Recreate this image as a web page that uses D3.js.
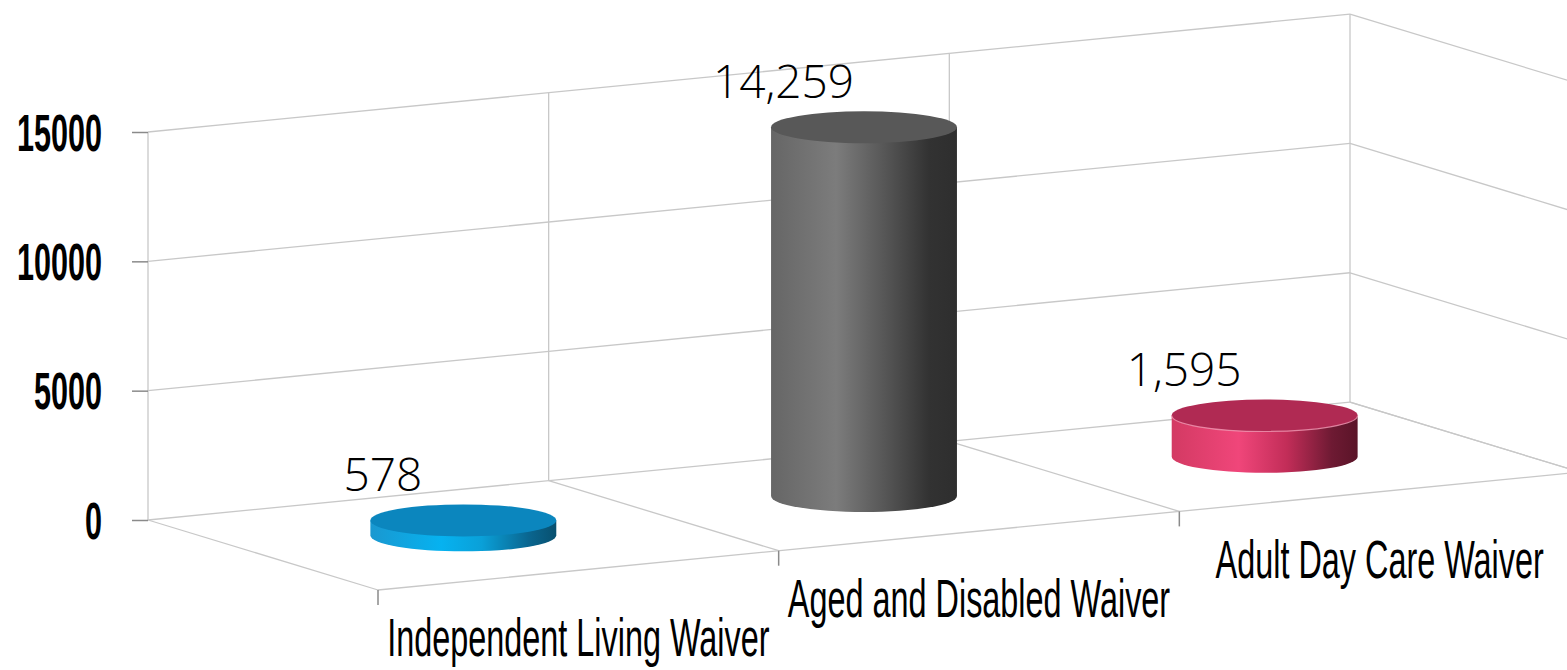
<!DOCTYPE html>
<html>
<head>
<meta charset="utf-8">
<script src="https://cdn.jsdelivr.net/npm/d3@7"></script>
<style>
  html, body { margin: 0; padding: 0; background: #ffffff; }
  svg { display: block; }
</style>
</head>
<body>
<svg id="chart" width="1567" height="670"></svg>
<script>
// Waiver enrolment by program
const categories = ["Independent Living Waiver", "Aged and Disabled Waiver", "Adult Day Care Waiver"];
const values = [578, 14259, 1595];
const yTicks = [0, 5000, 10000, 15000];
const yMax = 15000;

// Per-series shading: top face colour and side gradient stops
const topColors = ["#0b86be", "#585858", "#b02a53"];
const sideStops = [
  [["0%", "#1a98d0"], ["38%", "#06b2f0"], ["60%", "#0aa0d8"], ["85%", "#0a6690"], ["100%", "#08506f"]],
  [["0%", "#666666"], ["35%", "#7c7c7c"], ["62%", "#555555"], ["85%", "#323232"], ["100%", "#2e2e2e"]],
  [["0%", "#d33a63"], ["36%", "#f0467a"], ["62%", "#c22d58"], ["86%", "#6e1a33"], ["100%", "#5a1428"]]
];
const rimColors = [null, null, "#f09ab4"];

const svg = d3.select("#chart");

// Oblique 3D projection: category position c, value v, depth d (0 = back wall, 1 = front edge)
const x = d3.scaleLinear().domain([0, categories.length]).range([148, 1350]);
const y = d3.scaleLinear().domain([0, yMax]).range([520, 132]);
const RISE = 39.3;   // upward drift per category along the floor
const DX = 230, DY = 70; // screen offset from back to front
function P(c, v, d) {
  return [x(c) + d * DX, y(v) - c * RISE + d * DY];
}

const n = categories.length;
const gridColor = "#c8c8c8";
const tickColor = "#8a8a8a";
const grid = svg.append("g").attr("fill", "none").attr("stroke", gridColor).attr("stroke-width", 1.3);
const line = d3.line();

// Back wall horizontal gridlines and right side wall lines
yTicks.forEach(v => {
  grid.append("path").attr("d", line([P(0, v, 0), P(n, v, 0)]));
  grid.append("path").attr("d", line([P(n, v, 0), P(n, v, 1)]));
});
// Back wall verticals at category boundaries
d3.range(n + 1).forEach(c => {
  grid.append("path").attr("d", line([P(c, 0, 0), P(c, yMax, 0)]));
  // floor depth lines
  grid.append("path").attr("d", line([P(c, 0, 0), P(c, 0, 1)]));
});
// Front floor edge and the front right corner
grid.append("path").attr("d", line([P(0, 0, 1), P(n, 0, 1)]));
grid.append("path").attr("d", line([P(n, 0, 1), P(n, yMax, 1)]));

// Value axis on the back wall's left edge
const yAxis = d3.axisLeft(y).tickValues(yTicks).tickSize(16).tickPadding(30).tickFormat(d3.format("d"));
const yAxisG = svg.append("g").attr("transform", `translate(${x(0)},0)`).call(yAxis);
yAxisG.select(".domain").remove();
yAxisG.selectAll(".tick line").attr("stroke", tickColor).attr("stroke-width", 1.5);
yAxisG.selectAll(".tick text").each(function () {
  const t = d3.select(this);
  const tx = +t.attr("x");
  t.attr("x", 0).attr("dy", null).attr("y", 18)
   .attr("transform", `translate(${tx},0) scale(0.6,1)`)
   .attr("fill", "#000")
   .style("font-family", "'Liberation Sans', Arial, sans-serif")
   .style("font-size", "51px")
   .style("font-weight", "bold");
});

// Category tick marks below the front edge
const ticksG = svg.append("g").attr("stroke", tickColor).attr("stroke-width", 1.5);
d3.range(n + 1).forEach(c => {
  const [px, py] = P(c, 0, 1);
  ticksG.append("line").attr("x1", px).attr("x2", px).attr("y1", py).attr("y2", py + 15);
});

// Category labels, centred under each slot on the front edge
svg.append("g").selectAll("text").data(categories).join("text")
  .attr("transform", (d, i) => {
    const [px, py] = P(i + 0.5, 0, 1);
    return `translate(${px},${py + 86}) scale(0.6,1)`;
  })
  .attr("text-anchor", "middle")
  .style("font-family", "'Liberation Sans', Arial, sans-serif")
  .style("font-size", "54px")
  .attr("fill", "#000")
  .text(d => d);

// Gradients for cylinder sides
const defs = svg.append("defs");
sideStops.forEach((stops, i) => {
  const g = defs.append("linearGradient").attr("id", `side${i}`)
    .attr("x1", "0%").attr("x2", "100%").attr("y1", "0%").attr("y2", "0%");
  stops.forEach(([o, c]) => g.append("stop").attr("offset", o).attr("stop-color", c));
});

// Cylinders
const bandW = x(1) - x(0);
const rx = bandW * 0.232;
const ry = 16;
const cyl = svg.append("g");
values.forEach((v, i) => {
  const [cx, yBase] = P(i + 0.5, 0, 0.5);
  const yTop = P(i + 0.5, v, 0.5)[1];
  const g = cyl.append("g");
  g.append("path")
    .attr("d", `M${cx - rx},${yTop} L${cx - rx},${yBase} A${rx},${ry} 0 0 0 ${cx + rx},${yBase} L${cx + rx},${yTop} Z`)
    .attr("fill", `url(#side${i})`);
  g.append("ellipse").attr("cx", cx).attr("cy", yTop).attr("rx", rx).attr("ry", ry)
    .attr("fill", topColors[i]);
  if (rimColors[i]) {
    g.append("path")
      .attr("d", `M${cx - rx},${yTop} A${rx},${ry} 0 0 0 ${cx + rx},${yTop}`)
      .attr("fill", "none").attr("stroke", rimColors[i]).attr("stroke-width", 1.2).attr("opacity", 0.8);
  }
});

// Value labels above each cylinder
const fmt = d3.format(",");
svg.append("g").selectAll("text").data(values).join("text")
  .attr("x", (v, i) => P(i + 0.5, v, 0.15)[0])
  .attr("y", (v, i) => P(i + 0.5, v, 0.15)[1] - 5)
  .attr("text-anchor", "middle")
  .style("font-family", "'Open Sans', sans-serif")
  .style("font-weight", 300)
  .style("font-size", "46px")
  .attr("fill", "#000")
  .text(d => fmt(d));
</script>
</body>
</html>
